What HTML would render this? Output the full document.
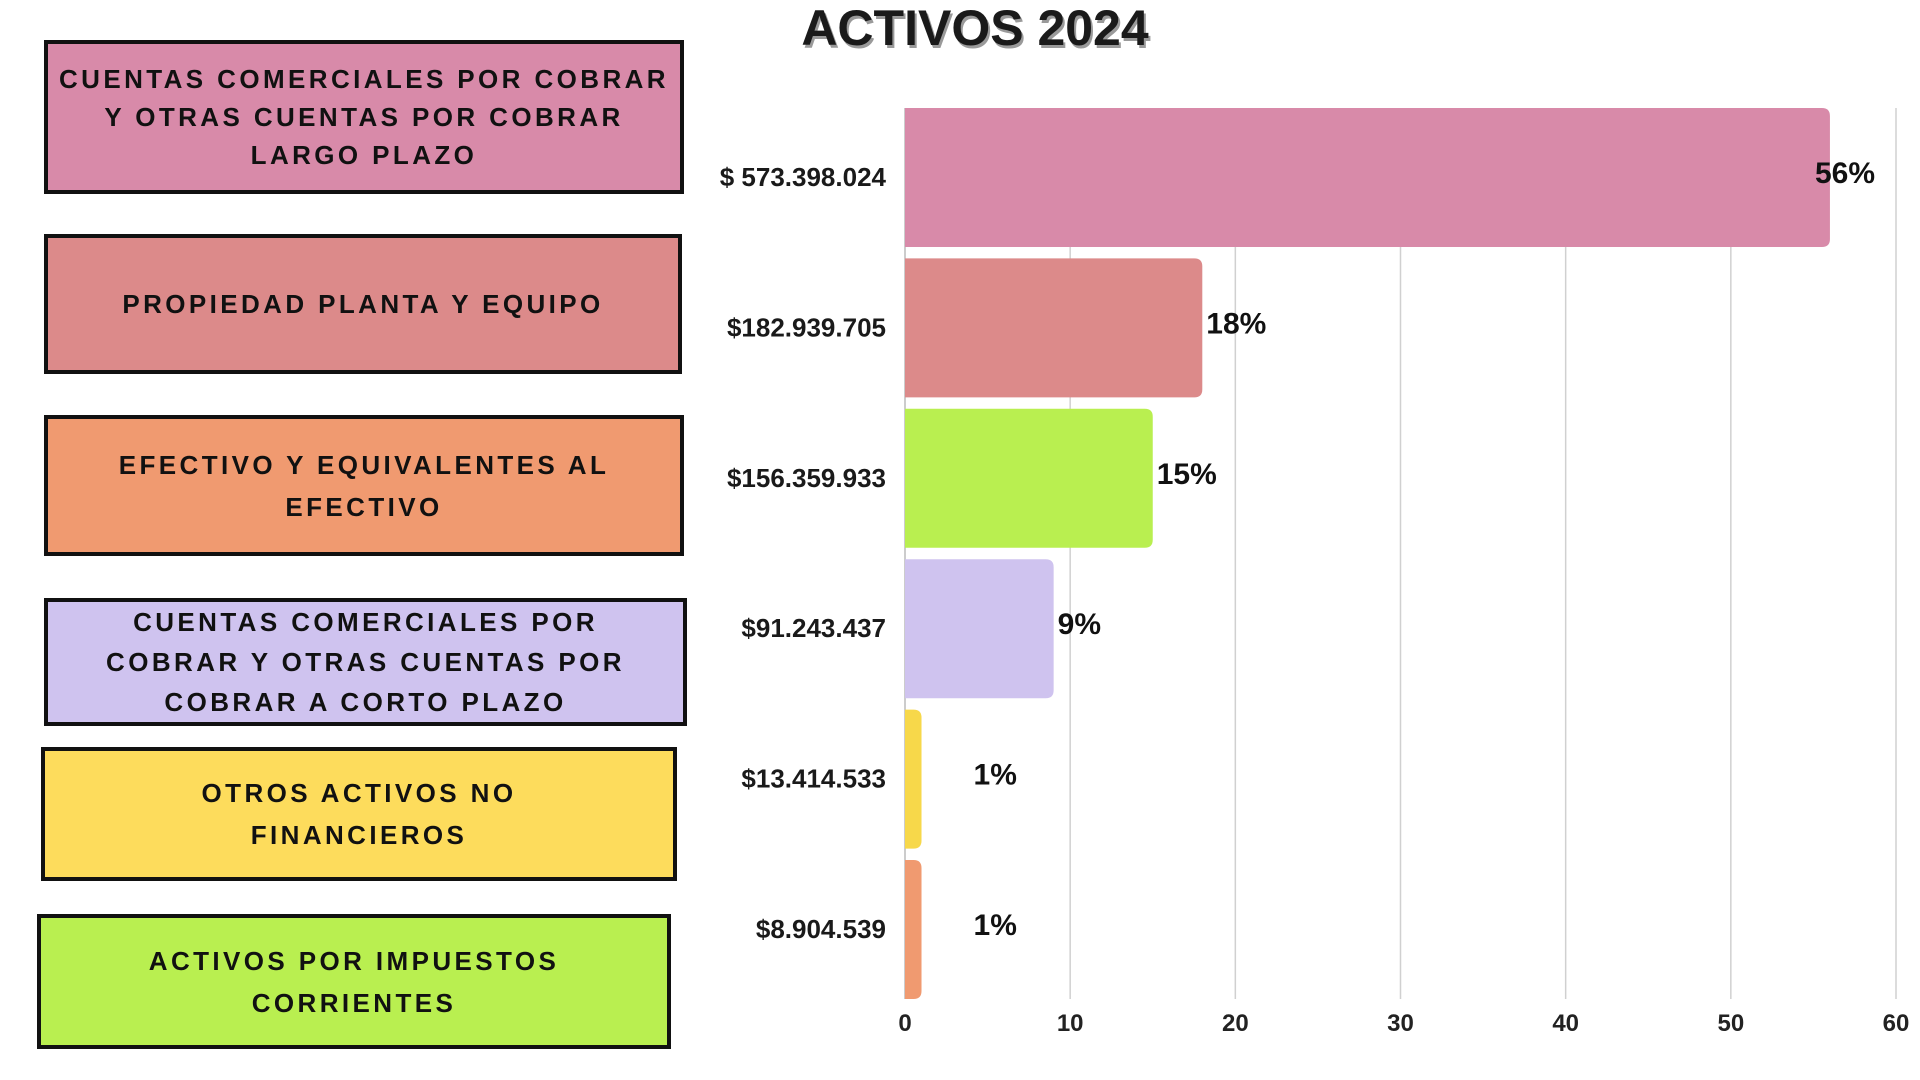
<!DOCTYPE html>
<html><head><meta charset="utf-8"><style>
html,body{margin:0;padding:0;background:#fff;}
body{width:1920px;height:1080px;position:relative;overflow:hidden;font-family:"Liberation Sans",sans-serif;}
.box{position:absolute;box-sizing:border-box;border:4px solid #111;display:flex;align-items:center;justify-content:center;text-align:center;font-weight:bold;font-size:26px;letter-spacing:3.4px;line-height:38px;color:#111;white-space:nowrap;}
#title{position:absolute;left:0;width:1950px;top:0;text-align:center;font-weight:bold;font-size:50px;line-height:56px;color:#1a1a1a;text-shadow:2px 3px 0 #9a9a9a;}
svg{position:absolute;left:0;top:0;}
</style></head><body>
<div id="title">ACTIVOS 2024</div>
<div class="box" style="left:44px;top:40px;width:640px;height:154px;background:#d88aa9;">CUENTAS COMERCIALES POR COBRAR<br>Y OTRAS CUENTAS POR COBRAR<br>LARGO PLAZO</div>
<div class="box" style="left:44px;top:234px;width:638px;height:140px;background:#dc8a8a;">PROPIEDAD PLANTA Y EQUIPO</div>
<div class="box" style="left:44px;top:415px;width:640px;height:141px;background:#f09a70;line-height:42px;">EFECTIVO Y EQUIVALENTES AL<br>EFECTIVO</div>
<div class="box" style="left:44px;top:598px;width:643px;height:128px;background:#cfc3ef;line-height:40px;">CUENTAS COMERCIALES POR<br>COBRAR Y OTRAS CUENTAS POR<br>COBRAR A CORTO PLAZO</div>
<div class="box" style="left:41px;top:747px;width:636px;height:134px;background:#fddc5c;line-height:42px;">OTROS ACTIVOS NO<br>FINANCIEROS</div>
<div class="box" style="left:37px;top:914px;width:634px;height:135px;background:#b9ef50;line-height:42px;">ACTIVOS POR IMPUESTOS<br>CORRIENTES</div>
<svg id="chart" width="1920" height="1080"></svg>
<script>
const categories=["Largo plazo","Propiedad planta y equipo","Efectivo","Corto plazo","Otros activos no financieros","Impuestos corrientes"];
const values=[56,18,15,9,1,1];
const amounts=["$ 573.398.024","$182.939.705","$156.359.933","$91.243.437","$13.414.533","$8.904.539"];
const pctLabels=["56%","18%","15%","9%","1%","1%"];
const ticks=[0,10,20,30,40,50,60];
const colors=["#d88aa9","#dc8a8a","#b9ef50","#cfc3ef","#f7d84a","#f09a70"];
const NS="http://www.w3.org/2000/svg";
const svg=document.getElementById('chart');
const x0=905,x1=1896,top0=108,band=150.4,barH=139;
function x(v){return x0+(v/60)*(x1-x0);}
function y(i){return top0+i*band;}
function mk(t,a){const e=document.createElementNS(NS,t);for(const k in a)e.setAttribute(k,a[k]);svg.appendChild(e);return e;}
ticks.forEach(t=>{
  const l=mk('line',{x1:x(t),x2:x(t),y1:top0,y2:y(5)+barH,stroke:t===0?'#bbb':'#d0d0d0','stroke-width':1.5});
  
  
  const tx=mk('text',{x:x(t),y:1031,'text-anchor':'middle','font-size':24,'font-weight':'bold',fill:'#222','font-family':'Liberation Sans, sans-serif'});
  tx.textContent=t;
  
  
});
values.forEach((v,i)=>{
  const w=x(v)-x0;
  const r=mk('path',{d:`M${x0},${y(i)} H${x0+w-8} Q${x0+w},${y(i)} ${x0+w},${y(i)+8} V${y(i)+barH-8} Q${x0+w},${y(i)+barH} ${x0+w-8},${y(i)+barH} H${x0} Z`,fill:colors[i]});
  
  
  const a=mk('text',{x:886,y:y(i)+78,'text-anchor':'end','font-size':26,'font-weight':'bold',fill:'#1a1a1a','font-family':'Liberation Sans, sans-serif'});
  a.textContent=amounts[i];
  
  
  let px=v>5?Math.min(x(v)+4,1815):x(v)+52;
  const p=mk('text',{x:px,y:y(i)+75,'font-size':30,'font-weight':'bold',fill:'#111','font-family':'Liberation Sans, sans-serif'});
  p.textContent=pctLabels[i];
  
  
});
</script>
</body></html>
